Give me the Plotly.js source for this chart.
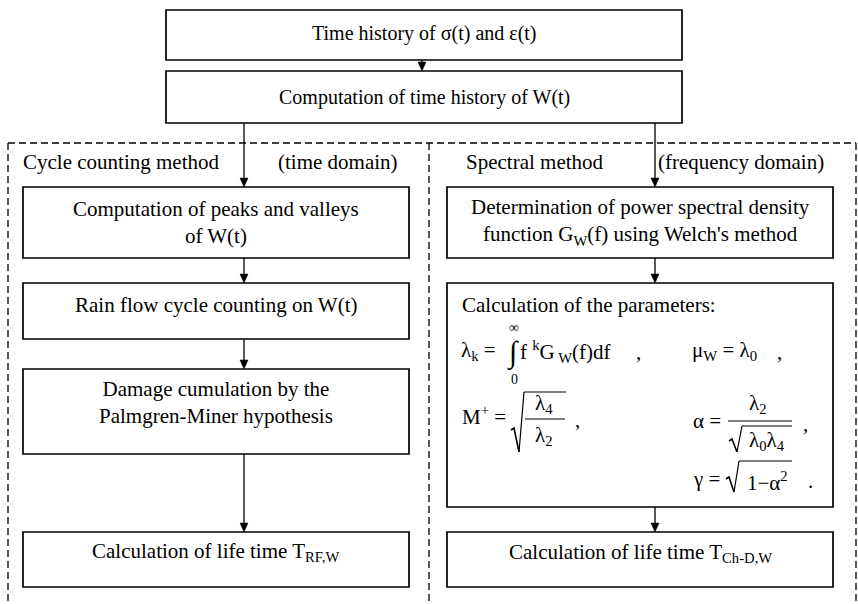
<!DOCTYPE html>
<html>
<head>
<meta charset="utf-8">
<script src="https://cdn.plot.ly/plotly-3.0.1.min.js"></script>
<style>html,body{margin:0;padding:0;background:#fff;}#chart{width:858px;height:604px;}</style>
</head>
<body>
<div id="chart"></div>
<script>
// ---------- content (text of the flowchart) ----------
const topSteps = ["Time history of σ(t) and ε(t)", "Computation of time history of W(t)"];
const leftHeader = ["Cycle counting method", "(time domain)"];
const rightHeader = ["Spectral method", "(frequency domain)"];
const leftSteps = [
  "Computation of peaks and valleys<br>of W(t)",
  "Rain flow cycle counting on W(t)",
  "Damage cumulation by the<br>Palmgren-Miner hypothesis",
  "Calculation of life time T<sub>RF,W</sub>"
];
const rightSteps = [
  "Determination of power spectral density<br>function G<sub>W</sub>(f) using Welch's method",
  "Calculation of the parameters:",
  "Calculation of life time T<sub>Ch-D,W</sub>"
];

// ---------- geometry (pixel layout, y grows downward) ----------
const topBoxGeom = [[166, 682, 10, 60, 33], [166, 682, 71, 123, 97]];
const leftX = [23, 409], rightX = [447, 833];
const leftBoxY = [[187, 258, 222], [283, 339, 305], [369, 454, 402], [532, 587, 552]];
const rightBoxY = [[187, 258, 222], [283, 507, 305], [532, 587, 553]];
const arrows = [[422, 60, 71], [244, 123, 187], [655, 123, 187],
  [244, 258, 283], [244, 339, 369], [244, 454, 532],
  [655, 258, 283], [655, 507, 532]];
const dashLines = [[8, 143, 856, 143], [8, 143, 8, 604], [429, 143, 429, 604], [856, 143, 856, 604]];

const FONT = "'Liberation Serif'";
const shapes = [], annotations = [];

function rect(x0, x1, y0, y1) {
  shapes.push({type: 'rect', xref: 'x', yref: 'y', x0, x1, y0, y1, line: {color: '#000', width: 1.7}, fillcolor: 'rgba(0,0,0,0)'});
}
function line(x0, y0, x1, y1, w, dash) {
  shapes.push({type: 'line', xref: 'x', yref: 'y', x0, y0, x1, y1, line: {color: '#000', width: w || 1.3, dash: dash || 'solid'}});
}
function path(d, fill, w) {
  shapes.push({type: 'path', xref: 'x', yref: 'y', path: d, fillcolor: fill ? '#000' : 'rgba(0,0,0,0)', line: {color: '#000', width: w || 1.2}});
}
function text(t, x, y, opts) {
  opts = opts || {};
  annotations.push({xref: 'x', yref: 'y', x, y, text: t, showarrow: false, borderpad: 0,
    xanchor: opts.xa || 'center', yanchor: opts.ya || 'middle', align: opts.align || 'center',
    font: {family: FONT, size: opts.size || 21, color: '#000'}});
}
function sqrtSign(x0, yMid, yBot, yTop, xEnd) {
  path(`M${x0},${yMid + 2} L${x0 + 3},${yMid} L${x0 + 8},${yBot}`, false, 1.6);
  line(x0 + 8, yBot, x0 + 13, yTop, 1.2);
  line(x0 + 13, yTop, xEnd, yTop, 1.2);
}

// boxes + text
topBoxGeom.forEach((g, i) => { rect(g[0], g[1], g[2], g[3]); text(topSteps[i], (g[0] + g[1]) / 2, g[4], {size: 20}); });
leftBoxY.forEach((g, i) => { rect(leftX[0], leftX[1], g[0], g[1]); text(leftSteps[i], (leftX[0] + leftX[1]) / 2, g[2]); });
rightBoxY.forEach((g, i) => {
  rect(rightX[0], rightX[1], g[0], g[1]);
  if (i === 1) text(rightSteps[i], 461, g[2], {xa: 'left'});
  else text(rightSteps[i], (rightX[0] + rightX[1]) / 2, g[2]);
});

// dashed frame
dashLines.forEach(d => line(d[0], d[1], d[2], d[3], 1.3, '7px,4px'));

// headers
text(leftHeader[0], 22, 162, {xa: 'left'});
text(leftHeader[1], 277, 162, {xa: 'left'});
text(rightHeader[0], 465, 162, {xa: 'left'});
text(rightHeader[1], 657, 162, {xa: 'left'});

// arrows
arrows.forEach(a => {
  const [x, y0, y1] = a;
  line(x, y0, x, y1 - 8, 1.3);
  path(`M${x - 4},${y1 - 9} L${x + 4},${y1 - 9} L${x},${y1} Z`, true, 0.5);
});

// ---------- formulas ----------
// line 1
text("λ<sub>k</sub> =", 460, 351, {xa: 'left'});
text("∫", 513, 353, {size: 30});
text("∞", 514, 327, {size: 14});
text("0", 514, 379, {size: 14});
text("f <sup>k</sup>G<sub> W</sub>(f)df", 519, 351, {xa: 'left'});
text(",", 638, 352);
text("μ<sub>W</sub> = λ<sub>0</sub>", 691, 351, {xa: 'left'});
text(",", 779, 352);

// M+ line
text("M<sup>+</sup> =", 461, 415, {xa: 'left'});
sqrtSign(511, 428, 452, 392, 566);
text("λ<sub>4</sub>", 544, 404);
line(525, 419, 565, 419, 1.2);
text("λ<sub>2</sub>", 544, 436);
text(",", 577, 420);

// alpha line
text("α =", 692, 421, {xa: 'left'});
text("λ<sub>2</sub>", 758, 404);
line(728, 421, 792, 421, 1.2);
sqrtSign(729, 439, 452, 426, 792);
text("λ<sub>0</sub>λ<sub>4</sub>", 767, 441);
text(",", 805, 424);

// gamma line
text("γ =", 692, 479, {xa: 'left'});
sqrtSign(726, 477, 492, 461, 792);
text("1−α<sup>2</sup>", 767, 481);
text(".", 810, 481);

const layout = {
  width: 858, height: 604,
  margin: {l: 0, r: 0, t: 0, b: 0},
  paper_bgcolor: '#fff', plot_bgcolor: '#fff',
  font: {family: FONT},
  xaxis: {range: [0, 858], visible: false, fixedrange: true},
  yaxis: {range: [604, 0], visible: false, fixedrange: true},
  showlegend: false,
  shapes, annotations
};
Plotly.newPlot('chart', [], layout, {staticPlot: true, displayModeBar: false});
</script>
</body>
</html>
